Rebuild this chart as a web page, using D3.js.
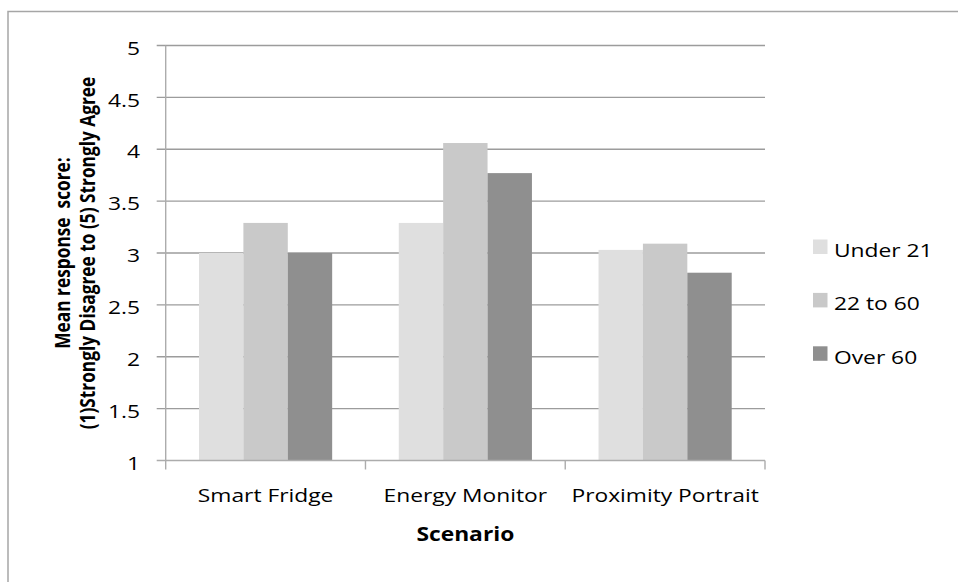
<!DOCTYPE html>
<html>
<head>
<meta charset="utf-8">
<script src="https://cdn.jsdelivr.net/npm/d3@7"></script>
<style>
  html, body { margin: 0; padding: 0; background: #fff; }
  svg { display: block; }
  text { font-family: "Open Sans", sans-serif; fill: #000; }
</style>
</head>
<body>
<svg id="chart" width="958" height="582"></svg>
<script>
// Survey results: mean agreement per scenario, by age group
const categories = ["Smart Fridge", "Energy Monitor", "Proximity Portrait"];
const seriesNames = ["Under 21", "22 to 60", "Over 60"];
const under21 = [3.00, 3.29, 3.03];
const age22to60 = [3.29, 4.06, 3.09];
const over60 = [3.00, 3.77, 2.81];
const yTicks = [1, 1.5, 2, 2.5, 3, 3.5, 4, 4.5, 5];
const seriesColors = ["#dfdfdf", "#c9c9c9", "#8f8f8f"];

const seriesValues = [under21, age22to60, over60];

const svg = d3.select("#chart");
const SX = 1.2;            // horizontal stretch of the lettering
const FS = 19;             // label font size

const plot = { left: 165.7, right: 765, top: 45.5, bottom: 460.5 };

const x = d3.scaleBand().domain(categories).range([plot.left, plot.right]).paddingInner(0).paddingOuter(0);
// Excel-style 150% gap: three bars take 3 of 4.5 bar widths in each band
const barW = x.bandwidth() / 4.5;
const inner = d3.scaleBand().domain(seriesNames).range([barW * 0.75, barW * 3.75]);
const y = d3.scaleLinear().domain([1, 5]).range([plot.bottom, plot.top]);

// Outer frame
svg.append("path")
  .attr("d", `M8,582 L8,11.5 L958,11.5`)
  .attr("fill", "none").attr("stroke", "#a6a6a6").attr("stroke-width", 1.5);

// Horizontal gridlines (with short tick stubs left of the axis)
svg.append("g").selectAll("line").data(yTicks.slice(1)).join("line")
  .attr("x1", plot.left - 9).attr("x2", plot.right)
  .attr("y1", d => y(d)).attr("y2", d => y(d))
  .attr("stroke", "#9c9c9c").attr("stroke-width", 1.4);

// Bars
const groups = svg.append("g").selectAll("g").data(categories).join("g")
  .attr("transform", d => `translate(${x(d)},0)`);
groups.selectAll("rect")
  .data((c, i) => seriesNames.map((s, j) => ({ s, j, v: seriesValues[j][i] })))
  .join("rect")
  .attr("x", d => inner(d.s))
  .attr("width", inner.bandwidth())
  .attr("y", d => y(d.v))
  .attr("height", d => y(1) - y(d.v))
  .attr("fill", d => seriesColors[d.j]);

// Axis lines
svg.append("line")
  .attr("x1", plot.left).attr("x2", plot.left)
  .attr("y1", plot.top).attr("y2", plot.bottom)
  .attr("stroke", "#acacac").attr("stroke-width", 1.4);
svg.append("line")
  .attr("x1", plot.left - 9).attr("x2", plot.right)
  .attr("y1", plot.bottom).attr("y2", plot.bottom)
  .attr("stroke", "#acacac").attr("stroke-width", 1.4);

// Category tick marks at band boundaries
const bounds = categories.map(c => x(c)).concat([plot.right]);
svg.append("g").selectAll("line").data(bounds).join("line")
  .attr("x1", d => d).attr("x2", d => d)
  .attr("y1", plot.bottom).attr("y2", plot.bottom + 9)
  .attr("stroke", "#acacac").attr("stroke-width", 1.4);

// Y tick labels
svg.append("g").selectAll("text").data(yTicks).join("text")
  .attr("transform", d => `translate(140,${y(d) + 2}) scale(${SX},1)`)
  .attr("text-anchor", "end")
  .attr("dominant-baseline", "central")
  .style("font-size", FS + "px")
  .text(d => d);

// Category labels
svg.append("g").selectAll("text").data(categories).join("text")
  .attr("transform", d => `translate(${x(d) + x.bandwidth() / 2},502) scale(${SX},1)`)
  .attr("text-anchor", "middle")
  .style("font-size", FS + "px")
  .text(d => d);

// X axis title
svg.append("text")
  .attr("transform", `translate(${(plot.left + plot.right) / 2},541) scale(${SX},1)`)
  .attr("text-anchor", "middle")
  .style("font-size", FS + "px").style("font-weight", "bold")
  .text("Scenario");

// Y axis title (two lines)
const yMid = (plot.top + plot.bottom) / 2;
[["Mean response  score:", 62], ["(1)Strongly Disagree to (5) Strongly Agree", 87]].forEach(([t, cx]) => {
  svg.append("text")
    .attr("transform", `translate(${cx},${yMid}) scale(${SX},1) rotate(-90)`)
    .attr("text-anchor", "middle")
    .attr("dominant-baseline", "central")
    .attr("xml:space", "preserve")
    .style("white-space", "pre")
    .style("font-size", "17.3px").style("font-weight", "bold")
    .text(t);
});

// Legend
const legend = svg.append("g").selectAll("g").data(seriesNames).join("g")
  .attr("transform", (d, i) => `translate(813,${239.5 + i * 53.4})`);
legend.append("rect")
  .attr("width", 14.5).attr("height", 14.5)
  .attr("fill", (d, i) => seriesColors[i]);
legend.append("text")
  .attr("transform", `translate(21,17.4) scale(${SX},1)`)
  .style("font-size", FS + "px")
  .text(d => d);
</script>
</body>
</html>
